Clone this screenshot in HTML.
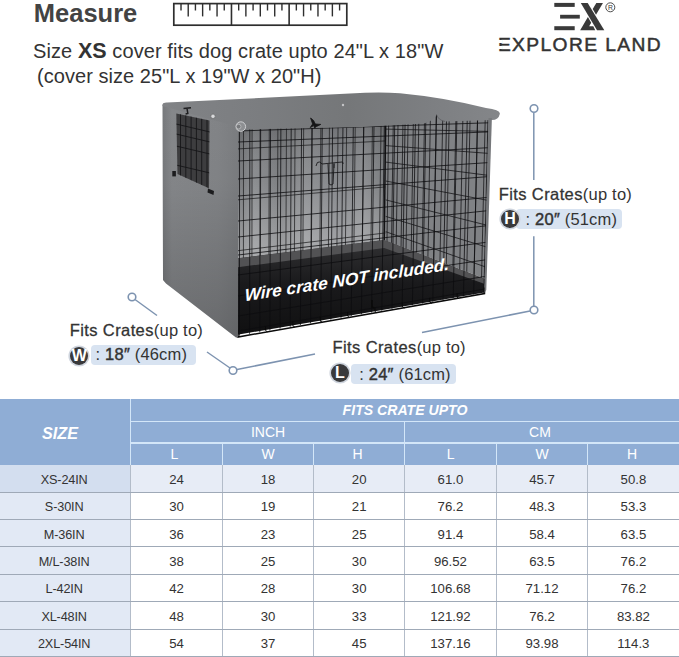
<!DOCTYPE html>
<html><head><meta charset="utf-8"><title>Measure</title>
<style>
html,body{margin:0;padding:0;background:#fff}
body{width:679px;height:657px;position:relative;overflow:hidden;font-family:"Liberation Sans",sans-serif;color:#333}
div{position:absolute;white-space:nowrap}
.fits{font-size:16.5px;color:#333;line-height:18px;letter-spacing:0.2px}
.fits .fc{letter-spacing:0.4px;-webkit-text-stroke:0.3px #333}
.pill{background:#d8e3f1;border-radius:4px}
.ball{width:18px;height:18px;border-radius:50%;background:#39393b;color:#fff;font-weight:bold;font-size:16px;line-height:18.5px;text-align:center;box-shadow:0 0 0 1.6px #cfd5de}
.val{font-size:16.5px;color:#333;letter-spacing:0.15px}
.val b{font-weight:normal;-webkit-text-stroke:0.45px #333;letter-spacing:0.3px}
.td{text-align:center;font-size:13.2px;color:#333}
.th{text-align:center;color:#fff}
</style></head><body>
<div style="left:33.8px;top:-2.4px;font-size:25.5px;font-weight:bold;line-height:30px;color:#434343">Measure</div>
<svg style="position:absolute;left:170px;top:0px" width="184" height="30" viewBox="170 0 184 30">
<rect x="173.8" y="3.6" width="173.0" height="21.599999999999998" fill="#fff" stroke="#2e2e2e" stroke-width="1.7"/>
<line x1="181.01" y1="3.6" x2="181.01" y2="10.5" stroke="#2e2e2e" stroke-width="1.4"/>
<line x1="188.22" y1="3.6" x2="188.22" y2="16.4" stroke="#2e2e2e" stroke-width="1.4"/>
<line x1="195.43" y1="3.6" x2="195.43" y2="10.5" stroke="#2e2e2e" stroke-width="1.4"/>
<line x1="202.63" y1="3.6" x2="202.63" y2="16.4" stroke="#2e2e2e" stroke-width="1.4"/>
<line x1="209.84" y1="3.6" x2="209.84" y2="10.5" stroke="#2e2e2e" stroke-width="1.4"/>
<line x1="217.05" y1="3.6" x2="217.05" y2="16.4" stroke="#2e2e2e" stroke-width="1.4"/>
<line x1="224.26" y1="3.6" x2="224.26" y2="10.5" stroke="#2e2e2e" stroke-width="1.4"/>
<line x1="231.47" y1="3.6" x2="231.47" y2="25.2" stroke="#2e2e2e" stroke-width="1.6"/>
<line x1="238.68" y1="3.6" x2="238.68" y2="10.5" stroke="#2e2e2e" stroke-width="1.4"/>
<line x1="245.88" y1="3.6" x2="245.88" y2="16.4" stroke="#2e2e2e" stroke-width="1.4"/>
<line x1="253.09" y1="3.6" x2="253.09" y2="10.5" stroke="#2e2e2e" stroke-width="1.4"/>
<line x1="260.30" y1="3.6" x2="260.30" y2="16.4" stroke="#2e2e2e" stroke-width="1.4"/>
<line x1="267.51" y1="3.6" x2="267.51" y2="10.5" stroke="#2e2e2e" stroke-width="1.4"/>
<line x1="274.72" y1="3.6" x2="274.72" y2="16.4" stroke="#2e2e2e" stroke-width="1.4"/>
<line x1="281.93" y1="3.6" x2="281.93" y2="10.5" stroke="#2e2e2e" stroke-width="1.4"/>
<line x1="289.13" y1="3.6" x2="289.13" y2="25.2" stroke="#2e2e2e" stroke-width="1.6"/>
<line x1="296.34" y1="3.6" x2="296.34" y2="10.5" stroke="#2e2e2e" stroke-width="1.4"/>
<line x1="303.55" y1="3.6" x2="303.55" y2="16.4" stroke="#2e2e2e" stroke-width="1.4"/>
<line x1="310.76" y1="3.6" x2="310.76" y2="10.5" stroke="#2e2e2e" stroke-width="1.4"/>
<line x1="317.97" y1="3.6" x2="317.97" y2="16.4" stroke="#2e2e2e" stroke-width="1.4"/>
<line x1="325.18" y1="3.6" x2="325.18" y2="10.5" stroke="#2e2e2e" stroke-width="1.4"/>
<line x1="332.38" y1="3.6" x2="332.38" y2="16.4" stroke="#2e2e2e" stroke-width="1.4"/>
<line x1="339.59" y1="3.6" x2="339.59" y2="10.5" stroke="#2e2e2e" stroke-width="1.4"/>
</svg>
<svg style="position:absolute;left:550px;top:0px" width="75" height="34" viewBox="550 0 75 34">
<rect x="554.3" y="2.9" width="20.4" height="4" fill="#3a3a3a"/>
<rect x="560.1" y="14.8" width="19.7" height="3.8" fill="#3a3a3a"/>
<rect x="554.3" y="26.2" width="20.4" height="4" fill="#3a3a3a"/>
<polygon points="580.8,2.9 587.7,2.9 604.3,30.2 597,30.2" fill="#3a3a3a"/>
<polygon points="596.34,2.9 602.96,2.9 596.0,14.7 592.7,9.1" fill="#3a3a3a"/>
<path d="M587.9,17.1 L591.2,22.7 L589.15,26.25 L593.3,26.25 L595.2,30.2 L580.16,30.2 Z" fill="#3a3a3a"/>
<circle cx="610.3" cy="7.3" r="4.5" fill="none" stroke="#3a3a3a" stroke-width="0.9"/>
<text x="610.4" y="9.7" font-size="6.8" font-family="'Liberation Sans', sans-serif" fill="#3a3a3a" text-anchor="middle">R</text>
</svg>
<div style="left:497.9px;top:33.8px;font-size:19.2px;letter-spacing:1.4px;word-spacing:0.2px;line-height:22px;color:#333;-webkit-text-stroke:0.5px #333">EXPLORE LAND</div>
<div style="left:498.4px;top:39.8px;width:3.3px;height:3px;background:#fff"></div><div style="left:498.4px;top:45.5px;width:3.3px;height:3.1px;background:#fff"></div>
<div style="left:33px;top:39.5px;font-size:20px;letter-spacing:0.08px;line-height:22px;color:#333">Size <b style="font-size:21.5px">XS</b> cover fits dog crate upto 24"L x 18"W</div>
<div style="left:37px;top:64.5px;font-size:20px;letter-spacing:0.05px;line-height:22px;color:#333">(cover size 25"L x 19"W x 20"H)</div>
<svg style="position:absolute;left:0;top:0" width="679" height="400" viewBox="0 0 679 400">
<defs>
<linearGradient id="gside" x1="0" y1="0" x2="1" y2="0"><stop offset="0" stop-color="#77797c"/><stop offset="0.12" stop-color="#85878a"/><stop offset="0.7" stop-color="#828487"/><stop offset="1" stop-color="#7a7c7f"/></linearGradient>
<linearGradient id="gtop" x1="0" y1="0" x2="1" y2="0"><stop offset="0" stop-color="#818386"/><stop offset="0.25" stop-color="#7c7e81"/><stop offset="0.55" stop-color="#757779"/><stop offset="0.8" stop-color="#7d7f82"/><stop offset="1" stop-color="#848689"/></linearGradient>
<linearGradient id="gtray" x1="0" y1="0" x2="0" y2="1"><stop offset="0" stop-color="#323234"/><stop offset="0.45" stop-color="#1a1a1c"/><stop offset="1" stop-color="#101011"/></linearGradient>
<linearGradient id="gwall" x1="0" y1="0" x2="0" y2="1"><stop offset="0" stop-color="#000" stop-opacity="0.22"/><stop offset="0.4" stop-color="#444" stop-opacity="0"/><stop offset="0.45" stop-color="#fff" stop-opacity="0"/><stop offset="1" stop-color="#fff" stop-opacity="0.28"/></linearGradient>
<linearGradient id="gshade" x1="0" y1="0" x2="0" y2="1"><stop offset="0" stop-color="#000" stop-opacity="0"/><stop offset="0.35" stop-color="#000" stop-opacity="0.02"/><stop offset="1" stop-color="#000" stop-opacity="0.2"/></linearGradient>
<linearGradient id="gback" x1="0" y1="0" x2="1" y2="0"><stop offset="0" stop-color="#737578"/><stop offset="0.12" stop-color="#8b8d90"/><stop offset="0.3" stop-color="#7c7e81"/><stop offset="0.45" stop-color="#8e9093"/><stop offset="0.7" stop-color="#84868a"/><stop offset="0.85" stop-color="#8d8f92"/><stop offset="1" stop-color="#7a7c7f"/></linearGradient>
<clipPath id="cfront"><polygon points="238.0,126.0 489.0,112.0 484.5,292.5 238.0,336.0"/></clipPath>
<clipPath id="cback"><polygon points="238.0,128.0 385.7,122.0 385.7,240.0 238.0,258.5"/></clipPath>
<clipPath id="cright"><polygon points="385.7,114.0 489.0,114.0 484.9,279.0 384.2,240.0"/></clipPath>
<clipPath id="cwin"><polygon points="176.3,113.4 209.5,120.6 209,188.3 177.5,173.9"/></clipPath>
</defs>
<polygon points="236.0,124.0 385.7,112.0 385.7,240.0 236.0,258.5" fill="url(#gback)"/>
<polygon points="236.0,124.0 385.7,112.0 385.7,240.0 236.0,258.5" fill="url(#gwall)"/>
<polygon points="385.7,112.0 489.5,112.0 485.5,279.0 384.2,240.0" fill="#808285"/>
<polygon points="236.0,258.5 384.2,240.0 484.9,279.0 484.5,292.5 236.0,335.0" fill="url(#gtray)"/>
<polygon points="236.0,258.5 384.2,240.0 484.9,279.0 484.8,284.0 384.2,248.0 236.0,267.5" fill="#525254"/>
<g clip-path="url(#cback)" stroke="#1a1a1c" stroke-width="0.72" fill="none">
<line x1="243.51" y1="110" x2="243.42" y2="270"/>
<line x1="252.11" y1="110" x2="251.90" y2="270"/>
<line x1="260.72" y1="110" x2="260.38" y2="270"/>
<line x1="269.33" y1="110" x2="268.86" y2="270"/>
<line x1="277.94" y1="110" x2="277.34" y2="270"/>
<line x1="286.55" y1="110" x2="285.82" y2="270"/>
<line x1="295.16" y1="110" x2="294.30" y2="270"/>
<line x1="303.77" y1="110" x2="302.78" y2="270"/>
<line x1="312.38" y1="110" x2="311.26" y2="270"/>
<line x1="320.99" y1="110" x2="319.74" y2="270"/>
<line x1="329.59" y1="110" x2="328.22" y2="270"/>
<line x1="338.20" y1="110" x2="336.70" y2="270"/>
<line x1="346.81" y1="110" x2="345.18" y2="270"/>
<line x1="355.42" y1="110" x2="353.66" y2="270"/>
<line x1="364.03" y1="110" x2="362.14" y2="270"/>
<line x1="372.64" y1="110" x2="370.62" y2="270"/>
<line x1="381.25" y1="110" x2="379.10" y2="270"/>
<line x1="238.0" y1="148.9" x2="385.7" y2="140.9"/>
<line x1="238.0" y1="199.8" x2="385.7" y2="186.9"/>
<line x1="238.0" y1="250.7" x2="385.7" y2="232.9"/>
</g>
<g clip-path="url(#cright)" stroke="#161618" stroke-width="0.78" fill="none">
<line x1="388.88" y1="108" x2="386.23" y2="296"/>
<line x1="393.49" y1="108" x2="390.76" y2="296"/>
<line x1="398.26" y1="108" x2="395.44" y2="296"/>
<line x1="403.19" y1="108" x2="400.29" y2="296"/>
<line x1="408.30" y1="108" x2="405.30" y2="296"/>
<line x1="413.58" y1="108" x2="410.50" y2="296"/>
<line x1="419.05" y1="108" x2="415.87" y2="296"/>
<line x1="424.71" y1="108" x2="421.43" y2="296"/>
<line x1="430.57" y1="108" x2="427.19" y2="296"/>
<line x1="436.64" y1="108" x2="433.15" y2="296"/>
<line x1="442.91" y1="108" x2="439.31" y2="296"/>
<line x1="449.41" y1="108" x2="445.70" y2="296"/>
<line x1="456.13" y1="108" x2="452.30" y2="296"/>
<line x1="463.09" y1="108" x2="459.14" y2="296"/>
<line x1="470.30" y1="108" x2="466.22" y2="296"/>
<line x1="477.75" y1="108" x2="473.54" y2="296"/>
<line x1="485.47" y1="108" x2="481.12" y2="296"/>
<line x1="385.7" y1="129.1" x2="488.5" y2="131.4"/>
<line x1="385.7" y1="145.6" x2="488.5" y2="153.4"/>
<line x1="385.7" y1="162.1" x2="488.5" y2="175.4"/>
<line x1="385.7" y1="181.0" x2="488.5" y2="200.5"/>
<line x1="385.7" y1="199.9" x2="488.5" y2="225.6"/>
<line x1="385.7" y1="216.4" x2="488.5" y2="247.6"/>
<line x1="385.7" y1="231.7" x2="488.5" y2="268.0"/>
</g>
<line x1="385.7" y1="122.0" x2="384.2" y2="240.0" stroke="#121214" stroke-width="1.5"/>
<g clip-path="url(#cfront)" stroke="#0d0d0f" stroke-width="0.78" fill="none">
<line x1="239.50" y1="108" x2="239.47" y2="340"/>
<line x1="249.86" y1="108" x2="249.61" y2="340"/>
<line x1="260.23" y1="108" x2="259.75" y2="340"/>
<line x1="270.59" y1="108" x2="269.88" y2="340"/>
<line x1="280.95" y1="108" x2="280.02" y2="340"/>
<line x1="291.31" y1="108" x2="290.16" y2="340"/>
<line x1="301.68" y1="108" x2="300.30" y2="340"/>
<line x1="312.04" y1="108" x2="310.43" y2="340"/>
<line x1="322.40" y1="108" x2="320.57" y2="340"/>
<line x1="332.77" y1="108" x2="330.71" y2="340"/>
<line x1="343.13" y1="108" x2="340.85" y2="340"/>
<line x1="353.49" y1="108" x2="350.99" y2="340"/>
<line x1="363.85" y1="108" x2="361.12" y2="340"/>
<line x1="374.22" y1="108" x2="371.26" y2="340"/>
<line x1="384.58" y1="108" x2="381.40" y2="340"/>
<line x1="394.94" y1="108" x2="391.54" y2="340"/>
<line x1="405.30" y1="108" x2="401.68" y2="340"/>
<line x1="415.67" y1="108" x2="411.81" y2="340"/>
<line x1="426.03" y1="108" x2="421.95" y2="340"/>
<line x1="436.39" y1="108" x2="432.09" y2="340"/>
<line x1="446.75" y1="108" x2="442.23" y2="340"/>
<line x1="457.12" y1="108" x2="452.37" y2="340"/>
<line x1="467.48" y1="108" x2="462.50" y2="340"/>
<line x1="477.84" y1="108" x2="472.64" y2="340"/>
<line x1="488.20" y1="108" x2="482.78" y2="340"/>
<line x1="238.0" y1="131.0" x2="488.5" y2="122.8"/>
<line x1="238.0" y1="142.0" x2="488.5" y2="131.9"/>
<line x1="238.0" y1="161.0" x2="488.5" y2="147.7"/>
<line x1="238.0" y1="179.0" x2="488.5" y2="162.6"/>
<line x1="238.0" y1="196.0" x2="488.5" y2="176.6"/>
<line x1="238.0" y1="221.0" x2="488.5" y2="197.3"/>
<line x1="238.0" y1="237.0" x2="488.5" y2="210.6"/>
<line x1="238.0" y1="255.0" x2="488.5" y2="225.5"/>
<line x1="238.0" y1="275.0" x2="488.5" y2="242.0"/>
<line x1="238.0" y1="296.0" x2="488.5" y2="259.4"/>
<line x1="238.0" y1="316.0" x2="488.5" y2="275.9"/>
<line x1="238.0" y1="331.0" x2="488.5" y2="288.4"/>
</g>
<polyline points="238.0,330.0 238.0,337.0 484.5,293.5 484.5,287.5" fill="none" stroke="#0a0a0a" stroke-width="1.5"/>
<path d="M265.4,326.3 l0,4 l2,1.5" stroke="#0a0a0a" stroke-width="1" fill="none"/>
<path d="M292.8,321.6 l0,4 l2,1.5" stroke="#0a0a0a" stroke-width="1" fill="none"/>
<path d="M320.2,316.8 l0,4 l2,1.5" stroke="#0a0a0a" stroke-width="1" fill="none"/>
<path d="M347.6,312.1 l0,4 l2,1.5" stroke="#0a0a0a" stroke-width="1" fill="none"/>
<path d="M374.9,307.4 l0,4 l2,1.5" stroke="#0a0a0a" stroke-width="1" fill="none"/>
<path d="M402.3,302.7 l0,4 l2,1.5" stroke="#0a0a0a" stroke-width="1" fill="none"/>
<path d="M429.7,297.9 l0,4 l2,1.5" stroke="#0a0a0a" stroke-width="1" fill="none"/>
<path d="M457.1,293.2 l0,4 l2,1.5" stroke="#0a0a0a" stroke-width="1" fill="none"/>
<path d="M372,300 l0,7 l2,1" stroke="#0a0a0a" stroke-width="1.6" fill="none"/>
<path d="M316,166 q1,-5 3.5,-4 q2,1 2.5,2 l20,-2 q1.5,0 1,2 M334,163 l0,5 M328,164 l1,20 q2,2 4,0 l1,-20" stroke="#1a1a1c" stroke-width="0.9" fill="none"/>
<path d="M162.5,106 Q162.5,102.5 166,103 L241,124 L241,130 L238,132 L238,337.5 L236,337.5 L166,283.5 L163,280 Z" fill="url(#gside)"/>
<path d="M162.5,106 Q162.5,102.5 166,103 L241,124 L241,130 L238,132 L238,337.5 L236,337.5 L166,283.5 L163,280 Z" fill="url(#gshade)"/>
<polygon points="176.3,113.4 209.5,120.6 209,188.3 177.5,173.9" fill="#3d3d3f"/>
<g clip-path="url(#cwin)" stroke="#161618" stroke-width="0.9" fill="none">
<line x1="180.5" y1="110" x2="180.5" y2="190"/>
<line x1="185.8" y1="110" x2="185.8" y2="190"/>
<line x1="191.1" y1="110" x2="191.1" y2="190"/>
<line x1="196.4" y1="110" x2="196.4" y2="190"/>
<line x1="201.7" y1="110" x2="201.7" y2="190"/>
<line x1="207.0" y1="110" x2="207.0" y2="190"/>
<line x1="176" y1="124" x2="210" y2="132"/>
<line x1="176" y1="134" x2="210" y2="142"/>
<line x1="176" y1="146" x2="210" y2="154"/>
<line x1="176" y1="165" x2="210" y2="173"/>
</g>
<path d="M162.5,106 Q162,102.5 167,102.6 L365,92.7 Q384,92 400,93.2 Q445,97.5 486,108 Q501,110 499.8,114 Q498.5,120 492,120 L445,121.5 Q438,120 436.5,114.5 Q435,120 424,123.5 L362,127 L300,128.2 L246,129.5 Q240,131 238,127 Z" fill="url(#gtop)"/>
<path d="M436.5,114.5 Q438,120 445,121.5" stroke="#5a5c5f" stroke-width="0.8" fill="none"/>
<polygon points="488.5,118 491.9,118 486.3,290 484.5,293.0" fill="#76787b"/>
<circle cx="240.8" cy="126.6" r="4.8" fill="#8d8f92" stroke="#d4d5d7" stroke-width="0.9"/>
<circle cx="238.6" cy="126.6" r="2.4" fill="#77797c" stroke="#c6c7c9" stroke-width="0.7"/>
<circle cx="213" cy="116.3" r="2.2" fill="#d8d9db" stroke="#5a5a5c" stroke-width="0.6"/>
<circle cx="343" cy="105" r="1.2" fill="#c4c5c7"/>
<path d="M183.5,108.5 l7.5,-0.8 M187,108.3 l0.8,5.2 l-2.2,0.5" stroke="#1e1e20" stroke-width="1.5" fill="none"/>
<path d="M310.6,118 L313.6,120.5 L315.3,124 L320.8,124.4 L316.3,126.6 L314.6,128 L313.8,125.6 L310.2,127.6 L312.6,124 Z" stroke="#151517" stroke-width="0.8" fill="#151517"/>
<rect x="172.3" y="171" width="3.6" height="5.4" fill="#1c1c1e"/>
<polygon points="208,188.5 214,191 213.5,195 207.5,192.5" fill="#1c1c1e"/>
<text transform="translate(244.7,301.3) skewY(-8.75)" font-family="'Liberation Sans', sans-serif" font-weight="bold" font-style="italic" font-size="17.2" fill="#fff">Wire crate NOT included.</text>
</svg>
<svg style="position:absolute;left:0;top:0" width="679" height="400" viewBox="0 0 679 400">
<g stroke="#7d93b0" stroke-width="1.5" fill="none">
<line x1="533.8" y1="113" x2="533.8" y2="180"/>
<line x1="533.8" y1="236.3" x2="533.8" y2="306"/>
<line x1="530" y1="311" x2="422" y2="332.5"/>
<line x1="315" y1="354" x2="237" y2="369.5"/>
<line x1="135" y1="299.5" x2="157" y2="315.5"/>
<line x1="207" y1="352" x2="230" y2="368"/>
</g>
<g stroke="#7d93b0" stroke-width="1.6" fill="#fff">
<circle cx="534" cy="108.5" r="3.8"/><circle cx="534" cy="310" r="3.8"/><circle cx="233" cy="370.5" r="3.8"/><circle cx="132" cy="297" r="3.8"/>
</g></svg>
<div class="fits" style="left:498.7px;top:185px"><span class="fc">Fits Crates</span>(up to)</div><div class="pill" style="left:516.3px;top:208.8px;width:105.90000000000009px;height:19.799999999999983px"></div><div class="ball" style="left:501px;top:209.8px">H</div><div class="val" style="left:525.5px;top:208.8px;line-height:20.299999999999983px">: <b>20″</b> (51cm)</div>
<div class="fits" style="left:69.7px;top:320.5px"><span class="fc">Fits Crates</span>(up to)</div><div class="pill" style="left:91.3px;top:345.4px;width:105.2px;height:19.400000000000034px"></div><div class="ball" style="left:70.3px;top:346.6px">W</div><div class="val" style="left:95.5px;top:345.4px;line-height:19.900000000000034px">: <b>18″</b> (46cm)</div>
<div class="fits" style="left:332.5px;top:338px"><span class="fc">Fits Crates</span>(up to)</div><div class="pill" style="left:351.3px;top:363.8px;width:105.19999999999999px;height:20.0px"></div><div class="ball" style="left:331px;top:364.2px">L</div><div class="val" style="left:359.2px;top:363.8px;line-height:20.5px">: <b>24″</b> (61cm)</div>
<div class="tb" style="left:0;top:398.5px;width:679px;height:66.5px;background:#8fadd5"></div>
<div class="tb" style="left:0;top:464.80px;width:679px;height:27.87px;background:#e7ecf6"></div>
<div class="tb" style="left:0;top:464.80px;width:130.7px;height:27.87px;background:#d3deef"></div>
<div class="td" style="left:0px;top:465.80px;width:130.7px;height:27.37px;line-height:28.37px;font-size:12.7px;letter-spacing:-0.15px;text-indent:-2.4px">XS-24IN</div>
<div class="td" style="left:130.7px;top:465.80px;width:91.70000000000002px;height:27.37px;line-height:28.37px">24</div>
<div class="td" style="left:222.4px;top:465.80px;width:91.4px;height:27.37px;line-height:28.37px">18</div>
<div class="td" style="left:313.8px;top:465.80px;width:90.80000000000001px;height:27.37px;line-height:28.37px">20</div>
<div class="td" style="left:404.6px;top:465.80px;width:91.69999999999999px;height:27.37px;line-height:28.37px">61.0</div>
<div class="td" style="left:496.3px;top:465.80px;width:91.40000000000003px;height:27.37px;line-height:28.37px">45.7</div>
<div class="td" style="left:587.7px;top:465.80px;width:91.39999999999998px;height:27.37px;line-height:28.37px">50.8</div>
<div class="tb" style="left:0;top:492.17px;width:679px;height:27.87px;background:#ffffff"></div>
<div class="tb" style="left:0;top:492.17px;width:130.7px;height:27.87px;background:#e2e9f5"></div>
<div class="td" style="left:0px;top:493.17px;width:130.7px;height:27.37px;line-height:28.37px;font-size:12.7px;letter-spacing:-0.15px;text-indent:-2.4px">S-30IN</div>
<div class="td" style="left:130.7px;top:493.17px;width:91.70000000000002px;height:27.37px;line-height:28.37px">30</div>
<div class="td" style="left:222.4px;top:493.17px;width:91.4px;height:27.37px;line-height:28.37px">19</div>
<div class="td" style="left:313.8px;top:493.17px;width:90.80000000000001px;height:27.37px;line-height:28.37px">21</div>
<div class="td" style="left:404.6px;top:493.17px;width:91.69999999999999px;height:27.37px;line-height:28.37px">76.2</div>
<div class="td" style="left:496.3px;top:493.17px;width:91.40000000000003px;height:27.37px;line-height:28.37px">48.3</div>
<div class="td" style="left:587.7px;top:493.17px;width:91.39999999999998px;height:27.37px;line-height:28.37px">53.3</div>
<div class="tb" style="left:0;top:519.54px;width:679px;height:27.87px;background:#ffffff"></div>
<div class="tb" style="left:0;top:519.54px;width:130.7px;height:27.87px;background:#e2e9f5"></div>
<div class="td" style="left:0px;top:520.54px;width:130.7px;height:27.37px;line-height:28.37px;font-size:12.7px;letter-spacing:-0.15px;text-indent:-2.4px">M-36IN</div>
<div class="td" style="left:130.7px;top:520.54px;width:91.70000000000002px;height:27.37px;line-height:28.37px">36</div>
<div class="td" style="left:222.4px;top:520.54px;width:91.4px;height:27.37px;line-height:28.37px">23</div>
<div class="td" style="left:313.8px;top:520.54px;width:90.80000000000001px;height:27.37px;line-height:28.37px">25</div>
<div class="td" style="left:404.6px;top:520.54px;width:91.69999999999999px;height:27.37px;line-height:28.37px">91.4</div>
<div class="td" style="left:496.3px;top:520.54px;width:91.40000000000003px;height:27.37px;line-height:28.37px">58.4</div>
<div class="td" style="left:587.7px;top:520.54px;width:91.39999999999998px;height:27.37px;line-height:28.37px">63.5</div>
<div class="tb" style="left:0;top:546.91px;width:679px;height:27.87px;background:#ffffff"></div>
<div class="tb" style="left:0;top:546.91px;width:130.7px;height:27.87px;background:#e2e9f5"></div>
<div class="td" style="left:0px;top:547.91px;width:130.7px;height:27.37px;line-height:28.37px;font-size:12.7px;letter-spacing:-0.15px;text-indent:-2.4px">M/L-38IN</div>
<div class="td" style="left:130.7px;top:547.91px;width:91.70000000000002px;height:27.37px;line-height:28.37px">38</div>
<div class="td" style="left:222.4px;top:547.91px;width:91.4px;height:27.37px;line-height:28.37px">25</div>
<div class="td" style="left:313.8px;top:547.91px;width:90.80000000000001px;height:27.37px;line-height:28.37px">30</div>
<div class="td" style="left:404.6px;top:547.91px;width:91.69999999999999px;height:27.37px;line-height:28.37px">96.52</div>
<div class="td" style="left:496.3px;top:547.91px;width:91.40000000000003px;height:27.37px;line-height:28.37px">63.5</div>
<div class="td" style="left:587.7px;top:547.91px;width:91.39999999999998px;height:27.37px;line-height:28.37px">76.2</div>
<div class="tb" style="left:0;top:574.28px;width:679px;height:27.87px;background:#ffffff"></div>
<div class="tb" style="left:0;top:574.28px;width:130.7px;height:27.87px;background:#e2e9f5"></div>
<div class="td" style="left:0px;top:575.28px;width:130.7px;height:27.37px;line-height:28.37px;font-size:12.7px;letter-spacing:-0.15px;text-indent:-2.4px">L-42IN</div>
<div class="td" style="left:130.7px;top:575.28px;width:91.70000000000002px;height:27.37px;line-height:28.37px">42</div>
<div class="td" style="left:222.4px;top:575.28px;width:91.4px;height:27.37px;line-height:28.37px">28</div>
<div class="td" style="left:313.8px;top:575.28px;width:90.80000000000001px;height:27.37px;line-height:28.37px">30</div>
<div class="td" style="left:404.6px;top:575.28px;width:91.69999999999999px;height:27.37px;line-height:28.37px">106.68</div>
<div class="td" style="left:496.3px;top:575.28px;width:91.40000000000003px;height:27.37px;line-height:28.37px">71.12</div>
<div class="td" style="left:587.7px;top:575.28px;width:91.39999999999998px;height:27.37px;line-height:28.37px">76.2</div>
<div class="tb" style="left:0;top:601.65px;width:679px;height:27.87px;background:#ffffff"></div>
<div class="tb" style="left:0;top:601.65px;width:130.7px;height:27.87px;background:#e2e9f5"></div>
<div class="td" style="left:0px;top:602.65px;width:130.7px;height:27.37px;line-height:28.37px;font-size:12.7px;letter-spacing:-0.15px;text-indent:-2.4px">XL-48IN</div>
<div class="td" style="left:130.7px;top:602.65px;width:91.70000000000002px;height:27.37px;line-height:28.37px">48</div>
<div class="td" style="left:222.4px;top:602.65px;width:91.4px;height:27.37px;line-height:28.37px">30</div>
<div class="td" style="left:313.8px;top:602.65px;width:90.80000000000001px;height:27.37px;line-height:28.37px">33</div>
<div class="td" style="left:404.6px;top:602.65px;width:91.69999999999999px;height:27.37px;line-height:28.37px">121.92</div>
<div class="td" style="left:496.3px;top:602.65px;width:91.40000000000003px;height:27.37px;line-height:28.37px">76.2</div>
<div class="td" style="left:587.7px;top:602.65px;width:91.39999999999998px;height:27.37px;line-height:28.37px">83.82</div>
<div class="tb" style="left:0;top:629.02px;width:679px;height:27.87px;background:#ffffff"></div>
<div class="tb" style="left:0;top:629.02px;width:130.7px;height:27.87px;background:#e2e9f5"></div>
<div class="td" style="left:0px;top:630.02px;width:130.7px;height:27.37px;line-height:28.37px;font-size:12.7px;letter-spacing:-0.15px;text-indent:-2.4px">2XL-54IN</div>
<div class="td" style="left:130.7px;top:630.02px;width:91.70000000000002px;height:27.37px;line-height:28.37px">54</div>
<div class="td" style="left:222.4px;top:630.02px;width:91.4px;height:27.37px;line-height:28.37px">37</div>
<div class="td" style="left:313.8px;top:630.02px;width:90.80000000000001px;height:27.37px;line-height:28.37px">45</div>
<div class="td" style="left:404.6px;top:630.02px;width:91.69999999999999px;height:27.37px;line-height:28.37px">137.16</div>
<div class="td" style="left:496.3px;top:630.02px;width:91.40000000000003px;height:27.37px;line-height:28.37px">93.98</div>
<div class="td" style="left:587.7px;top:630.02px;width:91.39999999999998px;height:27.37px;line-height:28.37px">114.3</div>
<div class="tb" style="left:130px;top:398.5px;width:1.4px;height:66.5px;background:#d3e6f8"></div>
<div class="tb" style="left:131px;top:420.5px;width:548px;height:1.4px;background:#d3e6f8"></div>
<div class="tb" style="left:131px;top:442.3px;width:548px;height:1.4px;background:#d3e6f8"></div>
<div class="tb" style="left:403.9px;top:421px;width:1.4px;height:44px;background:#d3e6f8"></div>
<div class="tb" style="left:221.70000000000002px;top:443px;width:1.4px;height:22px;background:#d3e6f8"></div>
<div class="tb" style="left:313.1px;top:443px;width:1.4px;height:22px;background:#d3e6f8"></div>
<div class="tb" style="left:495.6px;top:443px;width:1.4px;height:22px;background:#d3e6f8"></div>
<div class="tb" style="left:587.0px;top:443px;width:1.4px;height:22px;background:#d3e6f8"></div>
<div class="tb" style="left:130.2px;top:464.8px;width:1px;height:193px;background:#b3bcc9"></div>
<div class="tb" style="left:221.9px;top:464.8px;width:1px;height:193px;background:#b3bcc9"></div>
<div class="tb" style="left:313.3px;top:464.8px;width:1px;height:193px;background:#b3bcc9"></div>
<div class="tb" style="left:404.1px;top:464.8px;width:1px;height:193px;background:#b3bcc9"></div>
<div class="tb" style="left:495.8px;top:464.8px;width:1px;height:193px;background:#b3bcc9"></div>
<div class="tb" style="left:587.2px;top:464.8px;width:1px;height:193px;background:#b3bcc9"></div>
<div class="tb" style="left:0;top:491.67px;width:679px;height:1px;background:#9fa9b7"></div>
<div class="tb" style="left:0;top:519.04px;width:679px;height:1px;background:#9fa9b7"></div>
<div class="tb" style="left:0;top:546.41px;width:679px;height:1px;background:#9fa9b7"></div>
<div class="tb" style="left:0;top:573.78px;width:679px;height:1px;background:#9fa9b7"></div>
<div class="tb" style="left:0;top:601.15px;width:679px;height:1px;background:#9fa9b7"></div>
<div class="tb" style="left:0;top:628.52px;width:679px;height:1px;background:#9fa9b7"></div>
<div class="tb" style="left:0;top:655.89px;width:679px;height:1px;background:#9fa9b7"></div>
<div class="th" style="left:0;top:421px;width:120px;font-weight:bold;font-style:italic;font-size:16.2px;line-height:24px">SIZE</div>
<div class="th" style="left:131px;top:399px;width:548px;font-weight:bold;font-style:italic;font-size:14.1px;line-height:22px">FITS CRATE UPTO</div>
<div class="th" style="left:131px;top:421px;width:274px;font-size:14px;line-height:22px">INCH</div>
<div class="th" style="left:403px;top:421px;width:274px;font-size:14px;line-height:22px">CM</div>
<div class="th" style="left:154.5px;top:443px;width:40px;font-size:14px;line-height:22px">L</div>
<div class="th" style="left:248px;top:443px;width:40px;font-size:14px;line-height:22px">W</div>
<div class="th" style="left:337.5px;top:443px;width:40px;font-size:14px;line-height:22px">H</div>
<div class="th" style="left:430.7px;top:443px;width:40px;font-size:14px;line-height:22px">L</div>
<div class="th" style="left:522.2px;top:443px;width:40px;font-size:14px;line-height:22px">W</div>
<div class="th" style="left:612px;top:443px;width:40px;font-size:14px;line-height:22px">H</div>
</body></html>
